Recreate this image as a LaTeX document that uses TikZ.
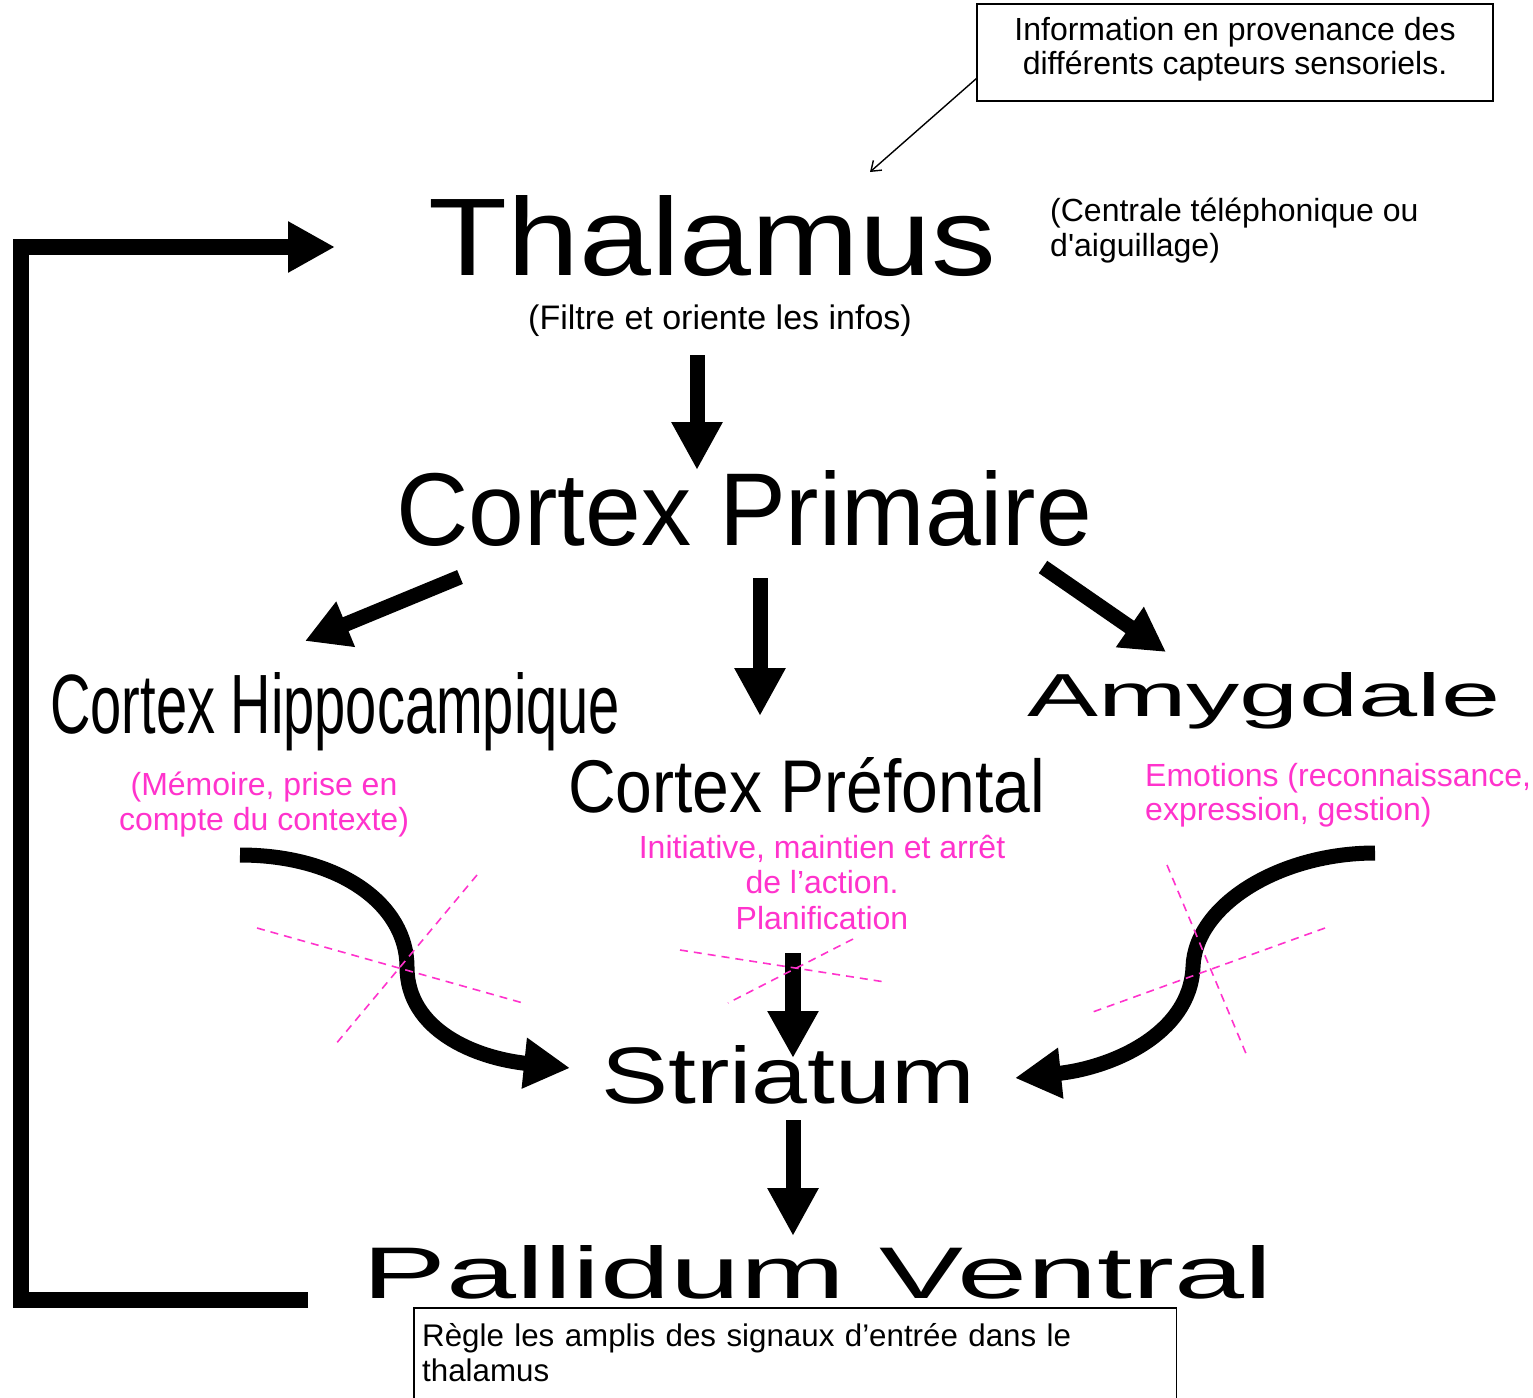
\documentclass[tikz,border=0pt]{standalone}
\usepackage{fontspec}
\setmainfont{Liberation Sans}[Ligatures=TeXOff]
\usepackage{graphicx}
\usetikzlibrary{arrows.meta}
\definecolor{rose}{RGB}{255,51,204}
\newcommand\fitto[3]{\resizebox{#1pt}{#2pt}{\fontsize{80}{80}\selectfont #3}}
\tikzset{
  ttl/.style={anchor=base west, inner sep=0pt},
  smalltxt/.style={inner sep=0pt, align=center, font=\fontsize{32}{35}\selectfont},
  pinktxt/.style={smalltxt, text=rose},
  fatarrow/.style={line width=15pt, -{Triangle[length=48pt,width=48pt]}},
  curvarrow/.style={line width=15pt, -{Triangle[length=46pt,width=48pt]}},
  crossline/.style={rose, line width=1.6pt, dash pattern=on 8pt off 6pt},
  thinarrow/.style={line width=1.4pt, -{Straight Barb[length=9pt,width=13pt]}},
  infobox/.style={draw, line width=1.4pt},
}
\begin{document}
\begin{tikzpicture}[x=1pt,y=-1pt]
\useasboundingbox (0,0) rectangle (1533,1397);
\clip (0,0) rectangle (1533,1397);

% boxes
\node[infobox, minimum width=516pt, minimum height=97pt, inner sep=0pt] (info) at (1235,52.5) {};
\node[smalltxt, font=\fontsize{32}{34}\selectfont] (infotxt) at (1235,49.5)
  {Information en provenance des\\différents capteurs sensoriels.};
\node[anchor=north west, minimum width=762pt, minimum height=88pt,
      text width=746pt, inner xsep=8pt, inner ysep=0pt, align=left,
      font=\fontsize{31.3}{35}\selectfont] (regle) at (414,1308)
  {Règle les amplis des signaux d’entrée dans le\\thalamus};
\draw[line width=1.4pt] ([yshift=-20pt]regle.south west) -- (regle.north west)
   -- (regle.north east) -- ([yshift=-20pt]regle.south east);

% titles
\node[ttl] (thal)  at (428,275)  {\fitto{568}{80}{Thalamus}};
\node[ttl] (cprim) at (396,545)  {\fitto{696}{75}{Cortex Primaire}};
\node[ttl] (chip)  at (50,733)   {\fitto{570}{61}{Cortex Hippocampique}};
\node[ttl] (amyg)  at (1027,716) {\fitto{473}{44}{Amygdale}};
\node[ttl] (cpref) at (568,812)  {\fitto{477}{55}{Cortex Préfontal}};
\node[ttl] (stri)  at (601,1103) {\fitto{374}{58}{Striatum}};
\node[ttl] (pall)  at (362,1298) {\fitto{910}{53}{Pallidum Ventral}};

% small texts
\node[smalltxt, font=\fontsize{34}{35}\selectfont] (filtre) at (720,321) {(Filtre et oriente les infos)};
\node[smalltxt, anchor=west, align=left] (centrale) at (1050,231) {(Centrale téléphonique ou\\d'aiguillage)};
\node[pinktxt] (memo) at (264,805) {(Mémoire, prise en\\compte du contexte)};
\node[pinktxt, font=\fontsize{32}{35.5}\selectfont] (init) at (822,882) {Initiative, maintien et arrêt\\de l’action.\\Planification};
\node[pinktxt, anchor=west, align=left, font=\fontsize{32}{34}\selectfont] (emo) at (1145,795) {Emotions (reconnaissance,\\expression, gestion)};

% connector end points
\coordinate (infoptr) at (977,78);
\coordinate (thaltop) at (870,172);
\coordinate (thalout) at (697,355);
\coordinate (cprimin) at (697,470);
\coordinate (cpL) at (460,577);
\coordinate (chipin) at (305,641);
\coordinate (cpM) at (760,578);
\coordinate (cprefin) at (760,716);
\coordinate (cpR) at (1043,567);
\coordinate (amygin) at (1166,652);
\coordinate (cprefout) at (793,953);
\coordinate (striin) at (793,1058);
\coordinate (striout) at (793,1120);
\coordinate (pallin) at (793,1236);
\coordinate (hipout) at (240,855);
\coordinate (striL) at (570,1068);
\coordinate (amygout) at (1375,853);
\coordinate (striR) at (1015,1078);
\coordinate (pallout) at (308,1300);
\coordinate (fbA) at (21,1300);
\coordinate (fbB) at (21,247);
\coordinate (thalin) at (335,247);

% connectors
\draw[thinarrow] (infoptr) -- (thaltop);
\draw[fatarrow] (thalout) -- (cprimin);
\draw[fatarrow, -{Triangle[length=44pt,width=46pt]}] (cpL) -- (chipin);
\draw[fatarrow] (cpM) -- (cprefin);
\draw[fatarrow, -{Triangle[length=44pt,width=46pt]}] (cpR) -- (amygin);
\draw[fatarrow, line width=16pt, -{Triangle[length=47pt,width=48pt]}] (cprefout) -- (striin);
\draw[fatarrow] (striout) -- (pallin);
\draw[fatarrow, line width=16pt, -{Triangle[length=47pt,width=48pt]}] (pallout) -- (fbA) -- (fbB) -- (thalin);
\draw[curvarrow] (hipout) .. controls (340,855) and (407,905) .. (407,967)
   .. controls (407,1030) and (475,1058) .. (striL);
\draw[curvarrow] (amygout) .. controls (1280,853) and (1195,905) .. (1193,967)
   .. controls (1190,1035) and (1110,1068) .. (striR);

% dashed crosses
\draw[crossline] (257,928) -- (523,1003);
\draw[crossline] (477,875) -- (335,1045);
\draw[crossline] (680,950) -- (885,982);
\draw[crossline] (853,939) -- (728,1003);
\draw[crossline] (1167,865) -- (1247,1056);
\draw[crossline] (1325,928) -- (1090,1013);
\end{tikzpicture}
\end{document}
